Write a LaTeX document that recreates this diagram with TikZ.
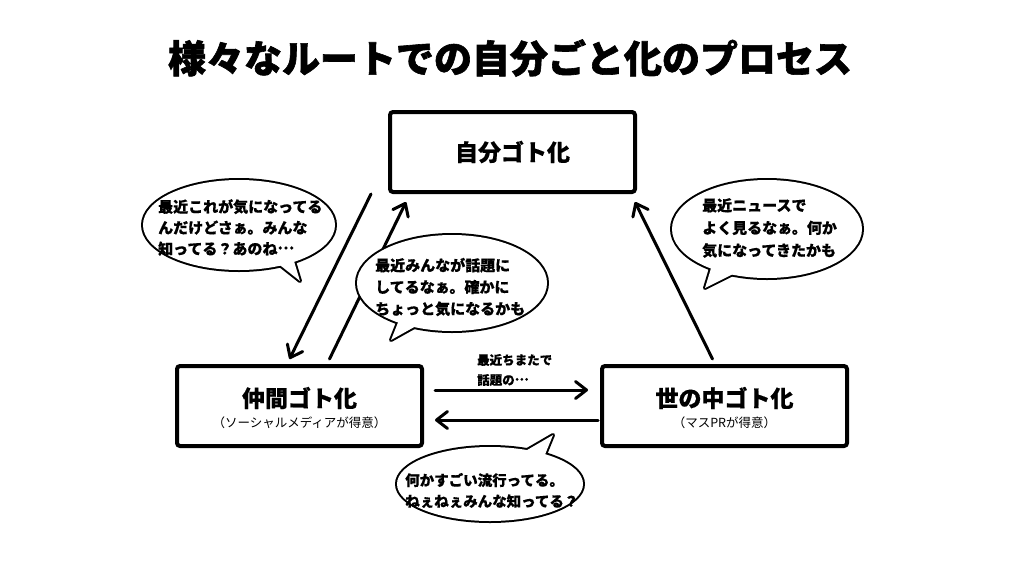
\documentclass[tikz,border=0pt]{standalone}
\usepackage{fontspec}
\setmainfont{Noto Sans CJK JP}[BoldFeatures={FakeBold=0.5}]
\newfontfamily\heavyfont{Noto Sans CJK JP}[BoldFeatures={FakeBold=1.6}]
\usetikzlibrary{arrows.meta,calc}
\newcommand\middots{\raisebox{0.33em}{…}}
\begin{document}
\begin{tikzpicture}[x=1pt,y=-1pt,
  box/.style={draw,line width=4pt,rounded corners=3pt,minimum width=245pt,minimum height=80pt,inner sep=0pt},
  boxmain/.style={inner sep=0pt,font=\bfseries\fontsize{23}{26}\selectfont},
  boxsub/.style={inner sep=0pt,font=\fontsize{12.5}{14}\selectfont},
  flow/.style={line width=3pt,line cap=round,-{Straight Barb[length=11pt,width=17pt,line cap=round,line join=round]}},
  bubbleline/.style={line width=4pt,line join=round},
  said/.style={inner sep=0pt,anchor=west,align=left},
]
\useasboundingbox (0,0) rectangle (1024,576);

% title
\node[inner sep=0pt,font=\heavyfont\bfseries\fontsize{38}{40}\selectfont] (title) at (510,58) {様々なルートでの自分ごと化のプロセス};

% boxes
\node[box] (T) at (512.5,152) {};
\node[boxmain] (Tt) at (T.center) {自分ゴト化};
\node[box] (L) at (299.5,406) {};
\node[boxmain] (Lt) at ($(L.center)+(0,-8)$) {仲間ゴト化};
\node[boxsub] (Ls) at ($(L.center)+(0,17)$) {（ソーシャルメディアが得意）};
\node[box] (R) at (724.5,406) {};
\node[boxmain] (Rt) at ($(R.center)+(0,-8)$) {世の中ゴト化};
\node[boxsub] (Rs) at ($(R.center)+(0,17)$) {（マスPRが得意）};

% connectors
\draw[flow] ($(T.south west)+(-17,0)$) -- ($(L.north)+(-10,-5)$);
\draw[flow] ($(L.north)+(30,-5)$) -- ($(T.south west)+(18,8)$);
\draw[flow] ($(R.north)+(-12,-5)$) -- ($(T.south east)+(-2,8)$);
\draw[flow] ($(L.east)+(11,-16)$) -- ($(R.west)+(-12,-16)$);
\draw[flow] ($(R.west)+(-2,14)$) -- ($(L.east)+(11,14)$);
\node[said,font=\bfseries\fontsize{12.5}{20}\selectfont] (lab) at (477,370) {最近ちまたで\\話題の\middots};

% bubble 1
\draw[bubbleline] (239,225) ellipse [x radius=96, y radius=45];
\draw[bubbleline] (276,262) -- (300,281) -- (293,258) -- cycle;
\fill[white] (239,225) ellipse [x radius=96, y radius=45];
\fill[white] (276,262) -- (300,281) -- (293,258) -- cycle;
\node[said,font=\bfseries\fontsize{15}{21}\selectfont] (b1) at (158,227.5) {最近これが気になってる\\んだけどさぁ。みんな\\知ってる？あのね\middots};

% bubble 2
\draw[bubbleline] (452,283) ellipse [x radius=95, y radius=48];
\draw[bubbleline] (399,320) -- (391,340) -- (416,326) -- cycle;
\fill[white] (452,283) ellipse [x radius=95, y radius=48];
\fill[white] (399,320) -- (391,340) -- (416,326) -- cycle;
\node[said,font=\bfseries\fontsize{15}{21.7}\selectfont] (b2) at (375,287) {最近みんなが話題に\\してるなぁ。確かに\\ちょっと気になるかも};

% bubble 3
\draw[bubbleline] (767,229) ellipse [x radius=95, y radius=49];
\draw[bubbleline] (712,265) -- (705,288) -- (735,273) -- cycle;
\fill[white] (767,229) ellipse [x radius=95, y radius=49];
\fill[white] (712,265) -- (705,288) -- (735,273) -- cycle;
\node[said,font=\bfseries\fontsize{15}{22.5}\selectfont] (b3) at (702,228) {最近ニュースで\\よく見るなぁ。何か\\気になってきたかも};

% bubble 4
\draw[bubbleline] (490,484) ellipse [x radius=93, y radius=37];
\draw[bubbleline] (522,453) -- (553,435) -- (544,457) -- cycle;
\fill[white] (490,484) ellipse [x radius=93, y radius=37];
\fill[white] (522,453) -- (553,435) -- (544,457) -- cycle;
\node[said,font=\bfseries\fontsize{14.5}{21}\selectfont] (b4) at (405,490.5) {何かすごい流行ってる。\\ねぇねぇみんな知ってる？};
\end{tikzpicture}
\end{document}
